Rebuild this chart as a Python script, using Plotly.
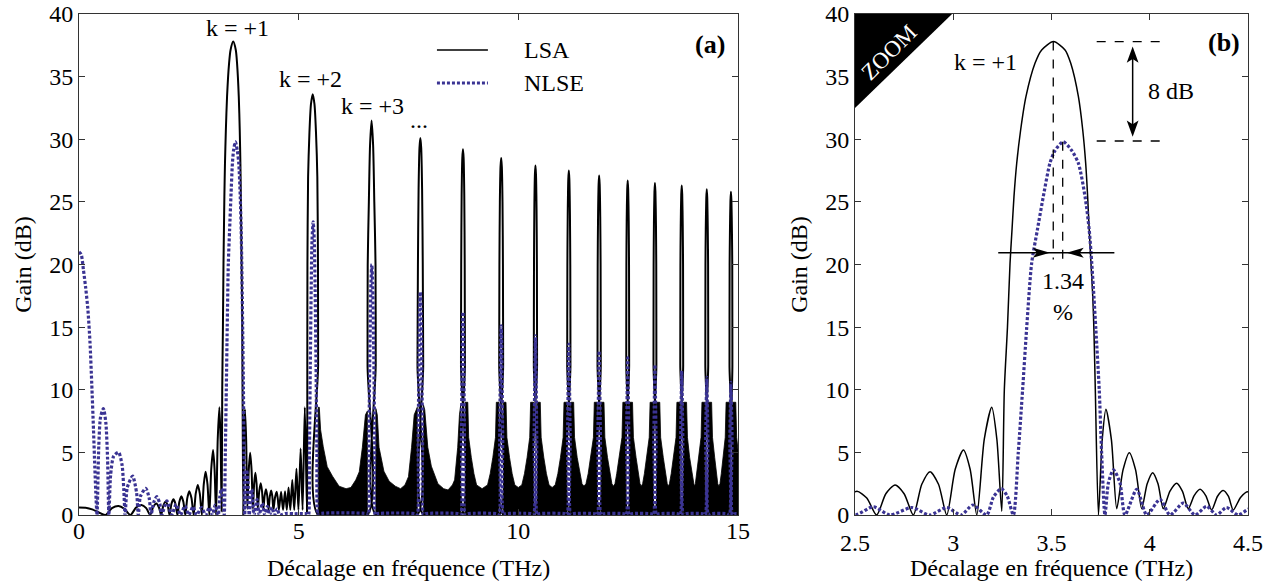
import plotly.graph_objects as go

FONT = "Liberation Serif"
BLUE = "#3a3393"
AX = "#333333"
FS = 24

# ---------------- LSA (black solid) : frequency offset (THz) / gain (dB) ----------------
lsa_low_f = [0.00, 0.15, 0.30, 0.45, 0.60, 0.75, 0.90, 1.03, 1.17, 1.30, 1.42, 1.53, 1.62,
             1.69, 1.76, 1.82, 1.87, 1.92, 1.97, 2.02, 2.06, 2.105, 2.15, 2.195, 2.24,
             2.285, 2.33, 2.375, 2.42, 2.465, 2.51, 2.56, 2.61, 2.657, 2.704, 2.75, 2.797,
             2.84, 2.882, 2.925, 2.967, 3.01, 3.052, 3.086, 3.12, 3.158, 3.196, 3.222, 3.247]
lsa_low_g = [0.60, 0.58, 0.45, 0.20, 0.00, 0.55, 0.72, 0.50, 0.00, 0.60, 0.80, 0.55, 0.00,
             0.65, 0.92, 0.60, 0.00, 0.75, 1.05, 0.75, 0.00, 0.90, 1.25, 0.90, 0.00,
             1.05, 1.50, 1.05, 0.00, 1.35, 1.90, 1.35, 0.00, 1.70, 2.40, 1.70, 0.00,
             2.45, 3.46, 2.45, 0.00, 3.65, 5.19, 3.65, 0.00, 6.05, 8.60, 6.05, 0.30]

lsa_k1_f = [3.260, 3.276, 3.289, 3.299, 3.309, 3.323, 3.343, 3.370, 3.416, 3.450, 3.510, 3.569,
            3.598, 3.637, 3.659, 3.674, 3.684, 3.692, 3.701, 3.710, 3.716, 3.723, 3.739]
lsa_k1_g = [10.0, 15.0, 20.1, 22.75, 25.4, 28.08, 30.74, 33.4, 36.06, 37.13, 37.8, 37.13,
            36.06, 33.4, 30.74, 28.08, 25.4, 22.75, 20.1, 17.43, 14.77, 10.0, 0.0]

lsa_side_f = [3.758, 3.777, 3.805, 3.832, 3.864, 3.896, 3.928, 3.959, 3.987, 4.015, 4.042, 4.069,
              4.103, 4.137, 4.166, 4.196, 4.226, 4.256, 4.285, 4.315, 4.345, 4.374, 4.400, 4.425,
              4.462, 4.500, 4.525, 4.550, 4.600, 4.645, 4.690, 4.730, 4.770, 4.810, 4.855, 4.900,
              4.950, 4.995, 5.045, 5.090, 5.140, 5.190]
lsa_side_g = [6.0, 8.44, 6.0, 0.5, 3.6, 4.98, 3.6, 0.5, 2.5, 3.38, 2.5, 0.5,
              1.9, 2.53, 1.9, 0.5, 1.55, 2.05, 1.55, 0.4, 1.5, 1.95, 1.5, 0.4,
              1.4, 1.85, 1.3, 0.4, 1.85, 0.4, 1.9, 0.4, 2.2, 0.4, 2.8, 0.4,
              3.7, 0.4, 5.3, 0.4, 8.6, 0.2]

# main lobes k = +2 ... +14
lsa_lobes_f = [
    [5.197, 5.200, 5.215, 5.245, 5.280, 5.320, 5.360, 5.395, 5.425, 5.440, 5.443, 5.445],
    [6.565, 6.568, 6.572, 6.598, 6.625, 6.660, 6.695, 6.722, 6.750, 6.754, 6.757],
    [7.700, 7.705, 7.715, 7.730, 7.750, 7.770, 7.790, 7.810, 7.825, 7.835, 7.840],
    [8.690, 8.695, 8.700, 8.710, 8.725, 8.740, 8.755, 8.770, 8.780, 8.785, 8.790],
    [9.560, 9.565, 9.570, 9.580, 9.595, 9.610, 9.625, 9.640, 9.650, 9.655, 9.660],
    [10.350, 10.353, 10.357, 10.365, 10.378, 10.390, 10.402, 10.415, 10.423, 10.427, 10.430],
    [11.110, 11.113, 11.117, 11.125, 11.138, 11.150, 11.162, 11.175, 11.183, 11.187, 11.190],
    [11.800, 11.803, 11.807, 11.815, 11.828, 11.840, 11.852, 11.865, 11.873, 11.877, 11.880],
    [12.455, 12.457, 12.460, 12.467, 12.479, 12.490, 12.501, 12.513, 12.520, 12.523, 12.525],
    [13.075, 13.077, 13.080, 13.087, 13.099, 13.110, 13.121, 13.133, 13.140, 13.143, 13.145],
    [13.685, 13.687, 13.690, 13.697, 13.709, 13.720, 13.731, 13.743, 13.750, 13.753, 13.755],
    [14.255, 14.257, 14.260, 14.267, 14.279, 14.290, 14.301, 14.313, 14.320, 14.323, 14.325],
    [14.805, 14.807, 14.810, 14.817, 14.829, 14.840, 14.851, 14.863, 14.870, 14.873, 14.875, 15.0],
]
lsa_lobes_g = [
    [12, 20, 27, 30.5, 32.8, 33.6, 32.8, 30.5, 27, 20, 12, 0],
    [0, 12, 20, 25, 29.5, 31.5, 29.5, 25, 20, 12, 0],
    [0, 12, 20, 26, 29.3, 30.1, 29.3, 26, 20, 12, 0],
    [0, 12, 20, 25.5, 28.5, 29.2, 28.5, 25.5, 20, 12, 0],
    [0, 12, 20, 25, 27.8, 28.5, 27.8, 25, 20, 12, 0],
    [0, 12, 20, 24.5, 27.2, 27.9, 27.2, 24.5, 20, 12, 0],
    [0, 12, 20, 24, 26.8, 27.5, 26.8, 24, 20, 12, 0],
    [0, 12, 20, 23.8, 26.4, 27.1, 26.4, 23.8, 20, 12, 0],
    [0, 12, 20, 23.5, 26.0, 26.7, 26.0, 23.5, 20, 12, 0],
    [0, 12, 20, 23.3, 25.8, 26.5, 25.8, 23.3, 20, 12, 0],
    [0, 12, 20, 23.1, 25.6, 26.3, 25.6, 23.1, 20, 12, 0],
    [0, 12, 20, 22.8, 25.3, 26.0, 25.3, 22.8, 20, 12, 0],
    [0, 12, 20, 22.6, 25.1, 25.8, 25.1, 22.6, 20, 12, 0, 0],
]

# envelope of the dense LSA side-lobe oscillations between main lobes (drawn filled)
lsa_env_f = [
    [5.445, 5.445, 5.470, 5.500, 5.560, 5.650, 5.770, 5.920, 6.080, 6.190, 6.300, 6.380, 6.450, 6.520, 6.565, 6.565],
    [6.757, 6.757, 6.790, 6.830, 6.940, 7.060, 7.200, 7.320, 7.420, 7.500, 7.570, 7.630, 7.700, 7.700],
    [7.840, 7.840, 7.870, 7.940, 8.020, 8.170, 8.300, 8.400, 8.500, 8.550, 8.620, 8.660, 8.690, 8.690],
    [8.79, 8.79, 8.85, 8.87, 8.93, 8.99, 9.05, 9.175, 9.30, 9.36, 9.42, 9.48, 9.50, 9.56, 9.56],
    [9.66, 9.66, 9.72, 9.74, 9.80, 9.86, 9.92, 10.00, 10.08, 10.14, 10.20, 10.26, 10.28, 10.35, 10.35],
    [10.43, 10.43, 10.50, 10.52, 10.58, 10.64, 10.70, 10.77, 10.84, 10.90, 10.96, 11.02, 11.04, 11.11, 11.11],
    [11.19, 11.19, 11.26, 11.28, 11.34, 11.40, 11.45, 11.495, 11.54, 11.59, 11.65, 11.71, 11.73, 11.80, 11.80],
    [11.88, 11.88, 11.95, 11.97, 12.03, 12.09, 12.13, 12.165, 12.20, 12.24, 12.30, 12.36, 12.38, 12.455, 12.455],
    [12.525, 12.525, 12.60, 12.62, 12.68, 12.73, 12.77, 12.80, 12.83, 12.87, 12.92, 12.98, 13.00, 13.075, 13.075],
    [13.145, 13.145, 13.22, 13.24, 13.30, 13.35, 13.39, 13.415, 13.44, 13.48, 13.53, 13.59, 13.61, 13.685, 13.685],
    [13.755, 13.755, 13.83, 13.85, 13.90, 13.95, 13.98, 14.005, 14.03, 14.06, 14.11, 14.16, 14.18, 14.255, 14.255],
    [14.325, 14.325, 14.40, 14.42, 14.47, 14.51, 14.54, 14.565, 14.59, 14.62, 14.66, 14.71, 14.73, 14.805, 14.805],
    [14.875, 14.875, 14.95, 14.97, 15.02, 15.07, 15.10, 15.13, 15.13],
]
lsa_env_g = [
    [0, 8.6, 8.6, 6.8, 5.45, 3.86, 3.1, 2.3, 2.1, 2.2, 2.8, 3.45, 5.4, 8.0, 8.3, 0],
    [0, 8.5, 8.0, 5.4, 3.5, 2.7, 2.3, 2.1, 2.4, 3.06, 5.4, 8.0, 8.6, 0],
    [0, 8.8, 8.4, 5.4, 3.9, 2.5, 2.1, 2.0, 2.4, 2.8, 5.4, 8.0, 8.8, 0],
    [0, 9.0, 9.0, 6.2, 4.6, 3.3, 2.4, 2.1, 2.4, 3.3, 4.6, 6.2, 9.0, 9.0, 0],
    [0, 9.0, 9.0, 6.2, 4.6, 3.3, 2.4, 2.2, 2.4, 3.3, 4.6, 6.2, 9.0, 9.0, 0],
    [0, 9.0, 9.0, 6.2, 4.6, 3.3, 2.4, 2.2, 2.4, 3.3, 4.6, 6.2, 9.0, 9.0, 0],
    [0, 9.0, 9.0, 6.2, 4.6, 3.3, 2.5, 2.3, 2.5, 3.3, 4.6, 6.2, 9.0, 9.0, 0],
    [0, 9.0, 9.0, 6.2, 4.6, 3.3, 2.5, 2.3, 2.5, 3.3, 4.6, 6.2, 9.0, 9.0, 0],
    [0, 9.0, 9.0, 6.2, 4.6, 3.3, 2.5, 2.3, 2.5, 3.3, 4.6, 6.2, 9.0, 9.0, 0],
    [0, 9.0, 9.0, 6.2, 4.6, 3.3, 2.5, 2.3, 2.5, 3.3, 4.6, 6.2, 9.0, 9.0, 0],
    [0, 9.0, 9.0, 6.2, 4.6, 3.3, 2.5, 2.3, 2.5, 3.3, 4.6, 6.2, 9.0, 9.0, 0],
    [0, 9.0, 9.0, 6.2, 4.6, 3.3, 2.5, 2.3, 2.5, 3.3, 4.6, 6.2, 9.0, 9.0, 0],
    [0, 9.0, 9.0, 6.2, 4.6, 3.3, 2.5, 2.3, 0],
]

# ---------------- NLSE (blue dotted) ----------------
nlse_low_f = [0.00, 0.05, 0.10, 0.15, 0.20, 0.25, 0.29, 0.33, 0.36, 0.39, 0.41,
              0.45, 0.49, 0.555, 0.61, 0.65, 0.68, 0.72, 0.79, 0.90, 0.98, 1.02, 1.05,
              1.10, 1.22, 1.31, 1.35, 1.40, 1.52, 1.60, 1.64, 1.70, 1.77, 1.84, 1.88,
              2.00, 2.11, 2.21, 2.31, 2.41, 2.50, 2.593, 2.678, 2.789, 2.880, 2.967, 3.040,
              3.100, 3.170, 3.205, 3.245, 3.275, 3.306]
nlse_low_g = [21.0, 20.8, 19.6, 18.2, 16.5, 13.8, 10.5, 6.8, 3.8, 1.2, 0.0,
              5.5, 7.8, 8.5, 7.4, 4.5, 0.0, 3.2, 4.7, 5.0, 4.0, 2.0, 0.0,
              2.2, 3.1, 1.8, 0.0, 1.5, 2.13, 1.3, 0.0, 1.0, 1.46, 0.9, 0.0,
              1.12, 0.0, 0.85, 0.0, 0.72, 0.0, 0.66, 0.0, 0.6, 0.0, 0.6, 0.0,
              0.8, 0.0, 1.45, 2.1, 1.5, 0.0]

nlse_k1_f = [3.331, 3.353, 3.374, 3.399, 3.428, 3.458, 3.492, 3.518, 3.560, 3.603, 3.637, 3.671,
             3.692, 3.705, 3.716, 3.726, 3.743, 3.755, 3.772]
nlse_k1_g = [5.0, 10.0, 15.0, 20.1, 22.75, 25.4, 28.08, 29.1, 29.8, 29.1, 28.08, 25.4,
             22.75, 20.1, 17.43, 14.77, 10.0, 5.0, 0.0]

nlse_side_f = [3.790, 3.815, 3.848, 3.874, 3.934, 3.985, 4.052, 4.103, 4.171, 4.230, 4.290, 4.340,
               4.390, 4.450, 4.510, 4.570, 4.700, 4.900, 5.100, 5.200]
nlse_side_g = [2.6, 3.6, 2.6, 0.0, 2.05, 0.0, 1.25, 0.0, 0.95, 0.0, 0.7, 0.0,
               0.6, 0.0, 0.5, 0.0, 0.12, 0.1, 0.12, 0.1]

nlse_lobes_f = [
    [5.225, 5.245, 5.265, 5.285, 5.305, 5.330, 5.355, 5.375, 5.395, 5.415, 5.435, 5.460],
    [6.550, 6.585, 6.600, 6.625, 6.645, 6.665, 6.685, 6.705, 6.730, 6.745, 6.780],
    [7.660, 7.700, 7.720, 7.740, 7.755, 7.770, 7.785, 7.800, 7.820, 7.840, 7.880],
    [8.640, 8.690, 8.705, 8.720, 8.730, 8.740, 8.750, 8.760, 8.775, 8.790, 8.840],
    [9.510, 9.560, 9.575, 9.590, 9.600, 9.610, 9.620, 9.630, 9.645, 9.660, 9.710],
    [10.300, 10.350, 10.360, 10.375, 10.385, 10.390, 10.395, 10.405, 10.420, 10.430, 10.480],
    [11.060, 11.110, 11.120, 11.135, 11.145, 11.150, 11.155, 11.165, 11.180, 11.190, 11.240],
    [11.750, 11.800, 11.810, 11.825, 11.835, 11.840, 11.845, 11.855, 11.870, 11.880, 11.930],
    [12.400, 12.455, 12.465, 12.478, 12.486, 12.490, 12.494, 12.502, 12.515, 12.525, 12.580],
    [13.020, 13.075, 13.085, 13.098, 13.106, 13.110, 13.114, 13.122, 13.135, 13.145, 13.200],
    [13.630, 13.685, 13.695, 13.708, 13.716, 13.720, 13.724, 13.732, 13.745, 13.755, 13.810],
    [14.200, 14.255, 14.265, 14.278, 14.286, 14.290, 14.294, 14.302, 14.315, 14.325, 14.380],
    [14.750, 14.805, 14.815, 14.828, 14.836, 14.840, 14.844, 14.852, 14.865, 14.875, 14.930, 15.000],
]
nlse_lobes_g = [
    [0, 5, 12, 18, 22, 23.4, 22, 18, 12, 5, 0, 0.1],
    [0.1, 0, 6, 14, 18.5, 20.0, 18.5, 14, 6, 0, 0.1],
    [0.1, 0, 6, 13, 16.5, 17.8, 16.5, 13, 6, 0, 0.1],
    [0.1, 0, 6, 12, 15, 16.2, 15, 12, 6, 0, 0.1],
    [0.1, 0, 6, 11, 14, 15.1, 14, 11, 6, 0, 0.1],
    [0.1, 0, 6, 11, 13.3, 14.3, 13.3, 11, 6, 0, 0.1],
    [0.1, 0, 6, 10.5, 12.7, 13.65, 12.7, 10.5, 6, 0, 0.1],
    [0.1, 0, 6, 10, 12.2, 13.1, 12.2, 10, 6, 0, 0.1],
    [0.1, 0, 6, 10, 11.7, 12.55, 11.7, 10, 6, 0, 0.1],
    [0.1, 0, 6, 9.5, 11.2, 12.0, 11.2, 9.5, 6, 0, 0.1],
    [0.1, 0, 6, 9.2, 10.8, 11.5, 10.8, 9.2, 6, 0, 0.1],
    [0.1, 0, 6, 9, 10.3, 11.0, 10.3, 9, 6, 0, 0.1],
    [0.1, 0, 6, 8.8, 10, 10.6, 10, 8.8, 6, 0, 0.1, 0.1],
]

x_ticks_a = [0, 5, 10, 15]
x_ticks_b = [2.5, 3, 3.5, 4, 4.5]
x_ticktext_b = ["2.5", "3", "3.5", "4", "4.5"]

# ---------------- assemble ----------------
lsa_x = lsa_low_f + lsa_k1_f + lsa_side_f
lsa_y = lsa_low_g + lsa_k1_g + lsa_side_g
for fx, gy in zip(lsa_lobes_f, lsa_lobes_g):
    lsa_x += fx
    lsa_y += gy

nlse_x = nlse_low_f + nlse_k1_f + nlse_side_f
nlse_y = nlse_low_g + nlse_k1_g + nlse_side_g
for fx, gy in zip(nlse_lobes_f, nlse_lobes_g):
    nlse_x += fx
    nlse_y += gy

env_x, env_y = [], []
for fx, gy in zip(lsa_env_f, lsa_env_g):
    env_x += fx + [None]
    env_y += gy + [None]

lsa_line_a = dict(color="black", width=2.0, shape="spline", smoothing=0.7)
lsa_line_b = dict(color="black", width=1.5, shape="spline", smoothing=0.7)
nlse_line = dict(color=BLUE, width=3.2, dash="3px,2px", shape="spline", smoothing=0.7)

fig = go.Figure()
fig.add_trace(go.Scatter(x=env_x, y=env_y, mode="lines", fill="toself", fillcolor="black",
                         line=dict(color="black", width=0.8), showlegend=False,
                         hoverinfo="skip", xaxis="x", yaxis="y"))
fig.add_trace(go.Scatter(x=lsa_x, y=lsa_y, mode="lines", name="LSA", line=lsa_line_a,
                         showlegend=False, xaxis="x", yaxis="y"))
fig.add_trace(go.Scatter(x=nlse_x, y=nlse_y, mode="lines", name="NLSE", line=nlse_line,
                         showlegend=False, xaxis="x", yaxis="y"))
fig.add_trace(go.Scatter(x=lsa_x, y=lsa_y, mode="lines", name="LSA", line=lsa_line_b,
                         showlegend=False, xaxis="x2", yaxis="y2"))
fig.add_trace(go.Scatter(x=nlse_x, y=nlse_y, mode="lines", name="NLSE", line=nlse_line,
                         showlegend=False, xaxis="x2", yaxis="y2"))

axis_common = dict(showline=True, linewidth=1, linecolor=AX, mirror="ticks", ticks="inside",
                   ticklen=6, tickwidth=1, tickcolor=AX, showgrid=False, zeroline=False,
                   automargin=False, ticklabeloverflow="allow",
                   tickfont=dict(family=FONT, size=FS, color="black"))
title_font = dict(family=FONT, size=FS, color="black")

fig.update_layout(
    template="none",
    width=1278, height=588,
    margin=dict(l=79, r=30, t=14, b=73),
    paper_bgcolor="white", plot_bgcolor="white",
    font=dict(family=FONT, size=FS, color="black"),
    showlegend=False,
    xaxis=dict(domain=[0, 0.5637], range=[0, 15], tickvals=x_ticks_a, ticklabelstandoff=-6,
               **axis_common),
    yaxis=dict(domain=[0, 1], range=[0, 40], dtick=5, anchor="x",
               title=dict(text="Gain (dB)", font=title_font, standoff=10), **axis_common),
    xaxis2=dict(domain=[0.6638, 1.0], range=[2.5, 4.5], tickvals=x_ticks_b,
                ticktext=x_ticktext_b, anchor="y2", ticklabelstandoff=6,
                **axis_common),
    yaxis2=dict(domain=[0, 1], range=[0, 40], dtick=5, anchor="x2",
                title=dict(text="Gain (dB)", font=title_font, standoff=10), **axis_common),
)

# x-axis titles (placed as paper annotations for exact vertical position)
for cx in [(0 + 0.5637) / 2, (0.6638 + 1.0) / 2]:
    fig.add_annotation(text="Décalage en fréquence (THz)", xref="paper", yref="paper",
                       x=cx, y=-0.106, xanchor="center", yanchor="middle", showarrow=False,
                       font=title_font)

# ---- manual legend ----
fig.add_shape(type="line", xref="paper", yref="paper", x0=0.3062, x1=0.3498, y0=0.9281, y1=0.9281,
              line=dict(color="black", width=1.6))
fig.add_shape(type="line", xref="paper", yref="paper", x0=0.3062, x1=0.3498, y0=0.8623, y1=0.8623,
              line=dict(color=BLUE, width=3.2, dash="3px,2px"))
fig.add_annotation(text="LSA", xref="paper", yref="paper", x=0.3787, y=0.9281,
                   xanchor="left", yanchor="middle", showarrow=False, font=dict(family=FONT, size=FS))
fig.add_annotation(text="NLSE", xref="paper", yref="paper", x=0.3787, y=0.8623,
                   xanchor="left", yanchor="middle", showarrow=False, font=dict(family=FONT, size=FS))


def txt(t, x, y, ax="x", ay="y", **kw):
    d = dict(text=t, x=x, y=y, xref=ax, yref=ay, showarrow=False,
             font=dict(family=FONT, size=FS, color="black"))
    d.update(kw)
    fig.add_annotation(**d)


# ---- panel (a) labels ----
txt("k = +1", 3.61, 38.9)
txt("k = +2", 5.27, 34.8)
txt("k = +3", 6.69, 32.65)
txt("...", 7.74, 30.3, yanchor="bottom")
txt("<b>(a)</b>", 14.36, 37.6, font=dict(family=FONT, size=26, color="black"))

# ---- panel (b) ----
fig.add_shape(type="path", xref="x2", yref="y2", path="M 2.5,40 L 2.994,40 L 2.5,32.5 Z",
              fillcolor="black", line=dict(width=0))
txt("ZOOM", 2.672, 36.95, ax="x2", ay="y2", textangle=-45,
    font=dict(family=FONT, size=23, color="white"))
txt("<b>(b)</b>", 4.378, 37.7, ax="x2", ay="y2", font=dict(family=FONT, size=26, color="black"))
txt("k = +1", 3.162, 36.2, ax="x2", ay="y2")
txt("8 dB", 4.108, 33.85, ax="x2", ay="y2")
txt("1.34", 3.559, 18.7, ax="x2", ay="y2")
txt("%", 3.559, 16.2, ax="x2", ay="y2")

dash_line = dict(color="black", width=1.3, dash="dash")
fig.add_shape(type="line", xref="x2", yref="y2", x0=3.730, x1=4.094, y0=37.8, y1=37.8, line=dash_line)
fig.add_shape(type="line", xref="x2", yref="y2", x0=3.730, x1=4.094, y0=29.86, y1=29.86, line=dash_line)
fig.add_shape(type="line", xref="x2", yref="y2", x0=3.509, x1=3.509, y0=37.8, y1=20.4, line=dash_line)
fig.add_shape(type="line", xref="x2", yref="y2", x0=3.557, x1=3.557, y0=29.8, y1=20.4, line=dash_line)
fig.add_shape(type="line", xref="x2", yref="y2", x0=3.229, x1=3.820, y0=20.94, y1=20.94,
              line=dict(color="black", width=1.5))
fig.add_shape(type="line", xref="x2", yref="y2", x0=3.913, x1=3.913, y0=36.6, y1=30.9,
              line=dict(color="black", width=1.5))
for p in ["M 3.492,20.94 L 3.405,21.34 L 3.425,20.94 L 3.405,20.54 Z",
          "M 3.577,20.94 L 3.664,21.34 L 3.644,20.94 L 3.664,20.54 Z",
          "M 3.913,37.4 L 3.883,36.1 L 3.913,36.4 L 3.943,36.1 Z",
          "M 3.913,30.2 L 3.883,31.5 L 3.913,31.2 L 3.943,31.5 Z"]:
    fig.add_shape(type="path", xref="x2", yref="y2", path=p, fillcolor="black", line=dict(width=0))

# remove the default 8px page margin so the figure fills the window exactly
fig.write_html("out.html", config={"displayModeBar": False},
               post_script="document.body.style.margin='0';")
